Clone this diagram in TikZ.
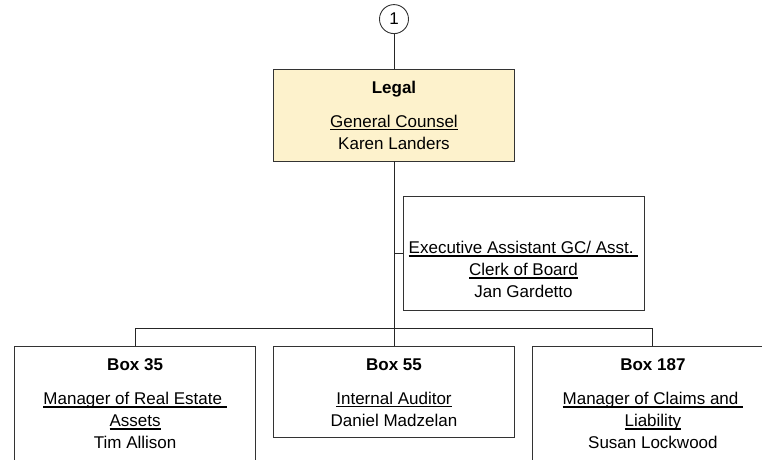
\documentclass[tikz,border=0pt]{standalone}
\usepackage{fontspec}
\setmainfont{Liberation Sans}
\usetikzlibrary{positioning}
\definecolor{legalfill}{RGB}{253,242,204}
\newcommand{\ulined}[1]{\setbox0\hbox{#1}\rlap{\rule[-2.8pt]{\wd0}{1.1pt}}\box0}

\begin{document}
\begin{tikzpicture}[x=1pt,y=1pt,line width=0.9pt,
    orgbox/.style={draw=black!80,rectangle,minimum width=241pt,align=center,
      font=\fontsize{17}{22}\selectfont,inner sep=0pt},
    conn/.style={draw=black!85}]
  \useasboundingbox (0,0) rectangle (762,459);
  \clip (0,0) rectangle (762,459);

  \node[orgbox,fill=legalfill,minimum height=92pt] (legal) at (394,344)
    {\textbf{Legal}\\[12pt]\ulined{General Counsel}\\Karen Landers};
  \node[draw=black!80,circle,minimum size=29pt,inner sep=0pt,
    font=\fontsize{17}{22}\selectfont] (c1) [above=34.5pt of legal] {1};
  \node[orgbox,minimum height=114pt] (exec) at (523.5,206)
    {\phantom{Box}\\[12pt]\ulined{Executive Assistant GC/ Asst.\ }\\
     \ulined{Clerk of Board}\\Jan Gardetto};
  \node[orgbox,minimum height=91pt] (b55) [below=185pt of legal]
    {\textbf{Box 55}\\[12pt]\ulined{Internal Auditor}\\Daniel Madzelan};
  \node[orgbox,minimum height=114pt] (b35) [left=17pt of b55.north west,anchor=north east]
    {\textbf{Box 35}\\[12pt]\ulined{Manager of Real Estate\ }\\\ulined{Assets}\\Tim Allison};
  \node[orgbox,minimum height=114pt] (b187) [right=17pt of b55.north east,anchor=north west]
    {\textbf{Box 187}\\[12pt]\ulined{Manager of Claims and\ }\\\ulined{Liability}\\Susan Lockwood};

  \draw[conn] (c1) -- (legal);
  \draw[conn] (legal) -- (b55);
  \draw[conn] (legal.south |- exec.west) -- (exec.west);
  \draw[conn] (b35.north) -- ++(0,18) -| (b187.north);
\end{tikzpicture}
\end{document}
